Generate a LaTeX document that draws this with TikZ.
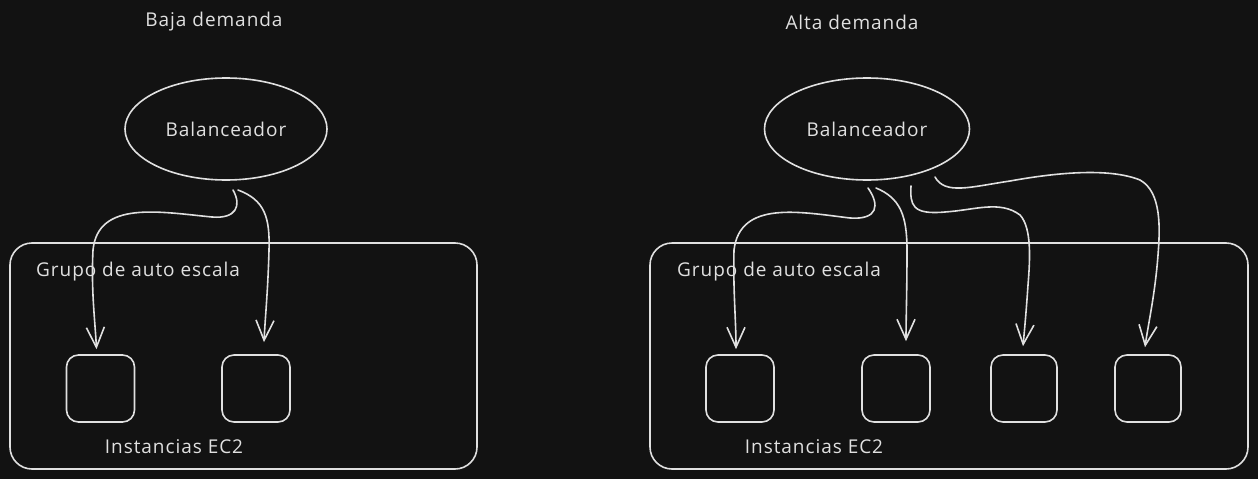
\documentclass[tikz,border=0pt]{standalone}
\usepackage{fontspec}
\setmainfont{Open Sans}[LetterSpace=5]
\usetikzlibrary{shapes.geometric,arrows.meta}
\definecolor{bgc}{HTML}{121212}
\definecolor{ink}{HTML}{E0E0E0}
\tikzset{
  sk/.style={draw=ink, line width=1.6pt, line cap=round, line join=round},
  lbl/.style={text=ink, font=\fontsize{19}{22}\selectfont, inner sep=0pt},
  balnode/.style={sk, ellipse, minimum width=202pt, minimum height=102pt, inner sep=0pt, text=ink, font=\fontsize{19}{22}\selectfont},
  grp/.style={sk, rectangle, rounded corners=22pt, minimum width=467pt, minimum height=226pt, inner sep=0pt},
  inst/.style={sk, rectangle, rounded corners=12pt, minimum width=68pt, minimum height=67pt, inner sep=0pt},
  conn/.style={sk, -{Straight Barb[length=20pt,width=18pt,line width=1.6pt]}},
}
\begin{document}
\begin{tikzpicture}[x=1pt,y=-1pt]
\fill[bgc] (0,0) rectangle (1258,479);
\useasboundingbox (0,0) rectangle (1258,479);
% ---------- left: Baja demanda ----------
\node[lbl] (t1) at (214,22) {Baja demanda};
\node[balnode] (b1) at (226,129) {Balanceador};
\node[grp] (g1) at (243.5,356) {};
\node[lbl, anchor=west] (gl1) at (36,272) {Grupo de auto escala};
\node[inst] (i1) at (100.5,388.5) {};
\node[inst] (i2) at (256,388.5) {};
\node[lbl] (e1) at (174,447) {Instancias EC2};
\coordinate (s1) at (233,190);
\coordinate (s2) at (238,190);
\draw[conn] (s1) .. controls (242,206) and (236,219) .. (212,217)
   .. controls (160,212) and (98,200) .. (93,250)
   .. controls (91,290) and (95,320) .. ([xshift=-4pt,yshift=5pt]i1.north);
\draw[conn] (s2) .. controls (265,200) and (270,218) .. (269,250)
   .. controls (268,290) and (265,320) .. ([xshift=8pt,yshift=12pt]i2.north);
% ---------- right: Alta demanda ----------
\node[lbl] (t2) at (852,22) {Alta demanda};
\node[balnode, minimum width=205pt] (b2) at (867,129) {Balanceador};
\node[grp, minimum width=598pt] (g2) at (949,356) {};
\node[lbl, anchor=west] (gl2) at (677,272) {Grupo de auto escala};
\node[inst] (i3) at (740,388.5) {};
\node[inst] (i4) at (896,388.5) {};
\node[inst, minimum width=66pt] (i5) at (1024,388.5) {};
\node[inst, minimum width=66pt] (i6) at (1148,388.5) {};
\node[lbl] (e2) at (814,447) {Instancias EC2};
\coordinate (s3) at (868,188);
\coordinate (s4) at (876,188);
\coordinate (s5) at (911,186);
\coordinate (s6) at (935,177);
\draw[conn] (s3) .. controls (880,205) and (878,220) .. (850,218)
   .. controls (800,212) and (740,200) .. (734,250)
   .. controls (733,290) and (736,320) .. ([xshift=-4pt,yshift=5pt]i3.north);
\draw[conn] (s4) .. controls (900,198) and (907,215) .. (907,250)
   .. controls (907,290) and (906,320) .. ([xshift=10pt,yshift=13pt]i4.north);
\draw[conn] (s5) .. controls (910,205) and (912,215) .. (945,212)
   .. controls (975,210) and (1000,200) .. (1020,215)
   .. controls (1032,228) and (1030,260) .. (1028,285)
   .. controls (1026,315) and (1024,335) .. ([xshift=-1pt,yshift=8pt]i5.north);
\draw[conn] (s6) .. controls (945,195) and (970,187) .. (1010,181)
   .. controls (1060,172) and (1110,168) .. (1140,180)
   .. controls (1162,192) and (1160,230) .. (1158,255)
   .. controls (1155,295) and (1148,325) .. ([xshift=-3pt,yshift=7pt]i6.north);
\end{tikzpicture}
\end{document}
